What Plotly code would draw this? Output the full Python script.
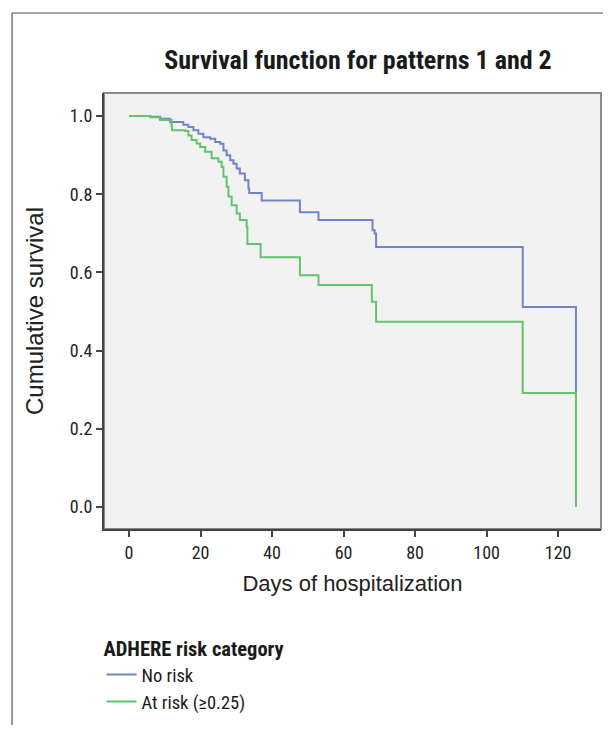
import plotly.graph_objects as go

# Kaplan-Meier step data (days, cumulative survival)
no_risk_days = [0, 5.9, 8.7, 11.5, 15.2, 16.6, 18.0, 19.4, 20.8, 22.7, 24.1, 25.5, 26.4, 27.3,
                28.3, 29.2, 30.1, 31.0, 32.4, 33.4, 33.6, 37.1, 47.8, 53.0, 68.1, 68.7, 69.1,
                110.1, 125.0]
no_risk_surv = [1.0, 0.998, 0.993, 0.985, 0.978, 0.972, 0.964, 0.955, 0.946, 0.942, 0.934, 0.929,
                0.912, 0.900, 0.887, 0.878, 0.866, 0.853, 0.836, 0.815, 0.803, 0.784, 0.754,
                0.734, 0.708, 0.700, 0.665, 0.512, 0.292]

at_risk_days = [0, 5.9, 8.7, 11.9, 12.0, 15.7, 16.6, 17.5, 18.9, 19.9, 21.3, 23.1, 25.0, 25.9,
                26.4, 27.3, 27.8, 28.7, 30.1, 31.0, 32.9, 33.1, 36.8, 47.8, 53.0, 67.9, 69.1,
                110.1, 125.0]
at_risk_surv = [1.0, 0.997, 0.99, 0.975, 0.964, 0.962, 0.950, 0.939, 0.930, 0.921, 0.909, 0.892,
                0.883, 0.870, 0.845, 0.819, 0.794, 0.772, 0.751, 0.734, 0.717, 0.673, 0.639,
                0.593, 0.568, 0.525, 0.474, 0.292, 0.0]

series_names = ["No risk", "At risk (≥0.25)"]
series_colors = ["#7184cb", "#63c46e"]

x_ticks = [0, 20, 40, 60, 80, 100, 120]
y_ticks = [0.0, 0.2, 0.4, 0.6, 0.8, 1.0]

NARROW = "Liberation Sans Narrow, Arial Narrow, Roboto Condensed, DejaVu Sans Condensed, sans-serif"
REG = "Liberation Sans, Arial, sans-serif"

W, H = 595, 717

fig = go.Figure()
for days, surv, name, color in [(no_risk_days, no_risk_surv, series_names[0], series_colors[0]),
                                (at_risk_days, at_risk_surv, series_names[1], series_colors[1])]:
    fig.add_trace(go.Scatter(x=days, y=surv, mode="lines", name=name,
                             line=dict(color=color, width=2, shape="hv")))

# outer frame of the figure panel and plot-area border
fig.add_shape(type="line", xref="paper", yref="paper", x0=-0.185, x1=-0.185, y0=-1.0, y1=1.1835,
              line=dict(color="#555555", width=1.2))
fig.add_shape(type="line", xref="paper", yref="paper", x0=-0.185, x1=1.1, y0=1.1835, y1=1.1835,
              line=dict(color="#555555", width=1.2))
fig.add_shape(type="rect", xref="paper", yref="paper", x0=0, x1=1, y0=0, y1=1,
              line=dict(color="#8a8a8a", width=2), layer="below")

fig.update_layout(
    width=W, height=H,
    margin=dict(l=96, r=2, t=85, b=196),
    paper_bgcolor="white",
    plot_bgcolor="#f2f2f2",
    title=dict(text="<b>Survival function for patterns 1 and 2</b>", x=350 / W, xanchor="center",
               y=1 - 52 / H, yanchor="middle",
               font=dict(family=NARROW, size=26, color="#1a1a1a")),
    showlegend=True,
    legend=dict(x=-0.005, xanchor="left", y=-0.23, yanchor="top",
                title=dict(text="<b>ADHERE risk category</b>", side="top",
                           font=dict(family=NARROW, size=20.5, color="#1a1a1a")),
                font=dict(family=NARROW, size=18.5, color="#1a1a1a"),
                bgcolor="rgba(0,0,0,0)", tracegroupgap=0, itemwidth=30),
    xaxis=dict(range=[-7, 132], tickvals=x_ticks, ticktext=[str(v) for v in x_ticks],
               showgrid=False, zeroline=False, showline=True, linecolor="#444444", linewidth=2,
               ticks="outside", ticklen=6, tickwidth=2, tickcolor="#444444",
               tickfont=dict(family=NARROW, size=18, color="#222222"),
               title=dict(text="Days of hospitalization", standoff=14,
                          font=dict(family=REG, size=22, color="#222222"))),
    yaxis=dict(range=[-0.056, 1.059], tickvals=y_ticks, ticktext=[f"{v:.1f}" for v in y_ticks],
               showgrid=False, zeroline=False, showline=True, linecolor="#444444", linewidth=2,
               ticks="outside", ticklen=6, tickwidth=2, tickcolor="#444444",
               tickfont=dict(family=NARROW, size=18, color="#222222"),
               title=dict(text="Cumulative survival", standoff=19,
                          font=dict(family=REG, size=24, color="#222222"))),
)

fig.write_html("out.html")
